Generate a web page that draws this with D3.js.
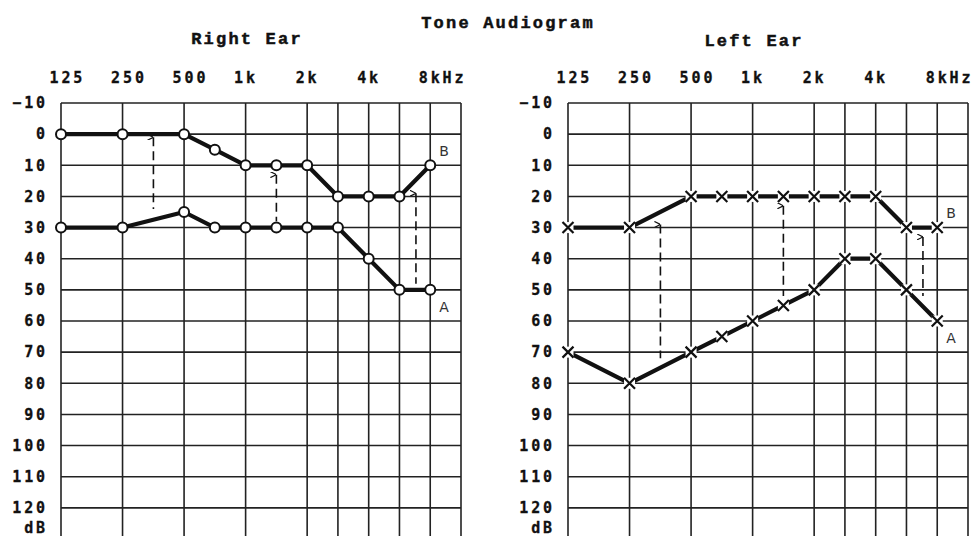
<!DOCTYPE html>
<html>
<head>
<meta charset="utf-8">
<script src="https://d3js.org/d3.v7.min.js"></script>
<style>
  body { margin: 0; background: #fff; }
</style>
</head>
<body>
<svg id="grafico"></svg>
<script>
// frequencias medidas (Hz) e limiares (dB)
var frequencias = [125, 250, 500, 750, 1000, 1500, 2000, 3000, 4000, 6000, 8000];
var direitaB = [0, 0, 0, 5, 10, 10, 10, 20, 20, 20, 10];
var direitaA = [30, 30, 25, 30, 30, 30, 30, 30, 40, 50, 50];
var esquerdaB = [30, 30, 20, 20, 20, 20, 20, 20, 20, 30, 30];
var esquerdaA = [70, 80, 70, 65, 60, 55, 50, 40, 40, 50, 60];

// setas tracejadas entre as curvas: frequencia, topo, base (dB)
var direitaGap = [[354, 1, 24], [1500, 13, 28], [7000, 19, 48]];
var esquerdaGap = [[354, 29, 72], [1500, 23, 52], [7000, 33, 52]];

var ticksFreq = [125, 250, 500, 1000, 2000, 4000, 8000];
var rotulosFreq = ['125', '250', '500', '1k', '2k', '4k', '8kHz'];
var gradeFreq = [125, 250, 500, 1000, 2000, 3000, 4000, 6000, 8000, 12000];
var ticksDb = [-10, 0, 10, 20, 30, 40, 50, 60, 70, 80, 90, 100, 110, 120];

var svg = d3.select('#grafico')
            .attr('width', 977)
            .attr('height', 536);

svg.append('defs').append('marker')
   .attr('id', 'seta')
   .attr('viewBox', '0 0 6 6')
   .attr('refX', 3).attr('refY', 0)
   .attr('markerWidth', 6).attr('markerHeight', 6)
   .attr('markerUnits', 'userSpaceOnUse')
   .attr('orient', 'auto')
   .append('path')
   .attr('d', 'M0,6 L3,0 L6,6')
   .attr('fill', 'none')
   .attr('stroke', '#111')
   .attr('stroke-width', 1.2);

function titulo(sel) {
  sel.style('text-anchor', 'middle')
     .style('font-family', '"Liberation Mono", monospace')
     .style('font-weight', 'bold')
     .style('font-size', '17px')
     .style('letter-spacing', '2.2px')
     .attr('fill', '#111')
     .attr('stroke', '#111')
     .attr('stroke-width', 0.5);
}

svg.append('text')
   .attr('x', 508).attr('y', 28)
   .call(titulo)
   .text('Tone Audiogram');

function orelha(p) {
  var largura = 400;
  var x = d3.scaleLog()
            .domain([125, 500, 750, 1000, 1500, 2000, 3000, 4000, 6000, 8000, 12000])
            .range([0, 2, 2.5, 3, 3.5, 4, 4.5, 5, 5.5, 6, 6.5].map(u => p.esquerda + u * largura / 6.5));
  var y = d3.scaleLinear()
            .domain([-10, 130])
            .range([103, 539]);

  var g = svg.append('g');

  g.append('text')
   .attr('x', p.esquerda + largura / 2 - 14).attr('y', p.tituloY)
   .call(titulo)
   .text(p.titulo);

  // grade
  g.selectAll('.gradeH')
   .data(ticksDb)
   .enter().append('line')
   .attr('x1', x(125)).attr('x2', x(12000))
   .attr('y1', d => y(d)).attr('y2', d => y(d))
   .attr('stroke', '#222').attr('stroke-width', 1.6);

  g.selectAll('.gradeV')
   .data(gradeFreq)
   .enter().append('line')
   .attr('x1', d => x(d)).attr('x2', d => x(d))
   .attr('y1', y(-10)).attr('y2', y(130))
   .attr('stroke', '#222').attr('stroke-width', 1.6);

  // eixos
  var eixoX = d3.axisTop(x).tickValues(ticksFreq).tickSize(0).tickPadding(20)
                .tickFormat((d, i) => rotulosFreq[i]);
  var gx = g.append('g')
            .attr('transform', 'translate(0,' + y(-10) + ')')
            .call(eixoX);
  gx.select('.domain').remove();
  gx.selectAll('text')
    .style('text-anchor', 'start')
    .attr('dx', -12);

  var eixoY = d3.axisLeft(y).tickValues(ticksDb).tickSize(0).tickPadding(13);
  var gy = g.append('g')
            .attr('transform', 'translate(' + x(125) + ',0)')
            .call(eixoY);
  gy.select('.domain').remove();
  gy.append('text')
    .attr('x', -13).attr('y', y(126.5)).attr('dy', '0.32em')
    .style('text-anchor', 'end')
    .text('dB');

  [gx, gy].forEach(e => {
    e.attr('font-family', null).attr('font-size', null);
    e.selectAll('text')
     .attr('fill', '#111')
     .attr('stroke', '#111')
     .attr('stroke-width', 0.3)
     .style('font-family', '"DejaVu Sans Mono", monospace')
     .style('font-weight', 'bold')
     .style('font-size', '15px')
     .style('letter-spacing', '2.9px');
  });

  // setas tracejadas
  g.selectAll('.gap')
   .data(p.gaps)
   .enter().append('line')
   .attr('x1', d => x(d[0])).attr('x2', d => x(d[0]))
   .attr('y1', d => y(d[1])).attr('y2', d => y(d[2]))
   .attr('stroke', '#111').attr('stroke-width', 1.6)
   .attr('stroke-dasharray', '9,5')
   .attr('marker-start', 'url(#seta)');

  // curvas
  var linha = d3.line()
                .x((d, i) => x(frequencias[i]))
                .y(d => y(d));

  [p.b, p.a].forEach(serie => {
    g.append('path')
     .attr('d', linha(serie))
     .attr('fill', 'none')
     .attr('stroke', '#111')
     .attr('stroke-width', 4.2)
     .attr('stroke-linejoin', 'round');

    var m = g.selectAll(null)
             .data(serie)
             .enter().append('g')
             .attr('transform', (d, i) => 'translate(' + x(frequencias[i]) + ',' + y(d) + ')');
    if (p.marcador === 'o') {
      m.append('circle')
       .attr('r', 5)
       .attr('fill', '#fff')
       .attr('stroke', '#111')
       .attr('stroke-width', 2);
    } else {
      m.append('rect')
       .attr('x', -5.5).attr('y', -5.5).attr('width', 11).attr('height', 11)
       .attr('fill', '#fff');
      m.append('path')
       .attr('d', 'M-5.5,-5.5 L5.5,5.5 M-5.5,5.5 L5.5,-5.5')
       .attr('stroke', '#111')
       .attr('stroke-width', 2.2);
    }
  });

  // rotulos A / B
  var ultimo = frequencias.length - 1;
  [['B', p.b[ultimo] - 4.5], ['A', p.a[ultimo] + 5.5]].forEach(r => {
    g.append('text')
     .attr('x', x(8000) + 9).attr('y', y(r[1])).attr('dy', '0.35em')
     .style('font-family', '"DejaVu Sans", sans-serif')
     .style('font-size', '14px')
     .attr('fill', '#333')
     .text(r[0]);
  });
}

orelha({ esquerda: 61, titulo: 'Right Ear', tituloY: 44, b: direitaB, a: direitaA, marcador: 'o', gaps: direitaGap });
orelha({ esquerda: 568, titulo: 'Left Ear', tituloY: 46, b: esquerdaB, a: esquerdaA, marcador: 'x', gaps: esquerdaGap });
</script>
</body>
</html>
